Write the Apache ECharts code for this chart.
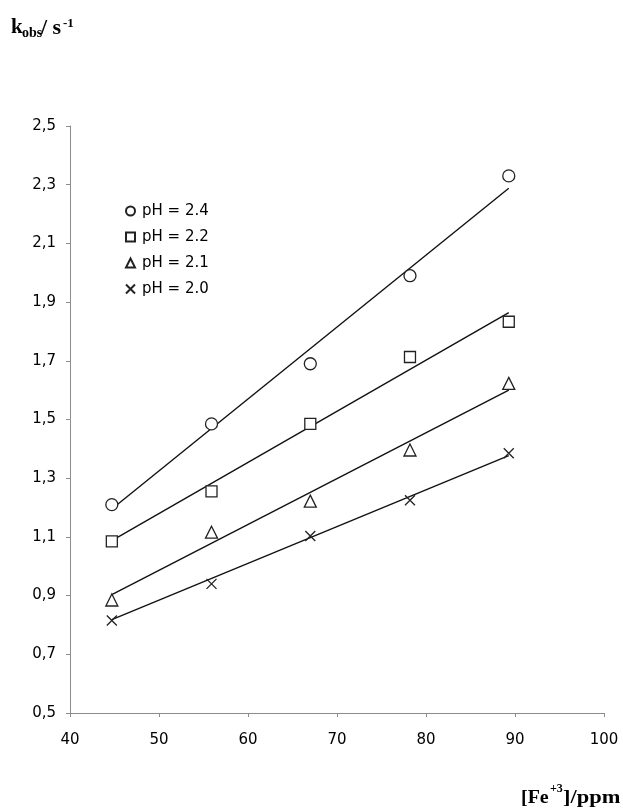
<!doctype html>
<html>
	<head>
		<meta charset="UTF-8">
		<title>kobs vs Fe+3</title>
		<script src="https://cdn.jsdelivr.net/npm/echarts@6/dist/echarts.min.js"></script>
		<style>
			html, body { margin: 0; padding: 0; background: #fff; }
			#main { width: 623px; height: 812px; }
		</style>
	</head>
	<body>
		<div id="main"></div>
		<script type="text/javascript">
			// concentrations of Fe+3 (ppm)
			var feConc = [44.7, 55.9, 67.0, 78.2, 89.3];
			// measured kobs for each pH
			var kPh24 = [1.21, 1.485, 1.69, 1.99, 2.33];
			var kPh22 = [1.085, 1.255, 1.485, 1.713, 1.833];
			var kPh21 = [0.885, 1.116, 1.222, 1.396, 1.623];
			var kPh20 = [0.815, 0.94, 1.103, 1.225, 1.385];
			// trend line endpoints, read at first and last concentration
			var lineX = [44.7, 89.3];
			var line24 = [1.195, 2.288];
			var line22 = [1.087, 1.864];
			var line21 = [0.903, 1.600];
			var line20 = [0.818, 1.377];
			var legendNames = ['pH = 2.4', 'pH = 2.2', 'pH = 2.1', 'pH = 2.0'];
			var xTicks = [40, 50, 60, 70, 80, 90, 100];
			var yTicks = [0.5, 0.7, 0.9, 1.1, 1.3, 1.5, 1.7, 1.9, 2.1, 2.3, 2.5];

			function pairs(xs, ys) {
				var out = [];
				for (var i = 0; i < xs.length; i++) {
					out.push([xs[i], ys[i]]);
				}
				return out;
			}

			var markerStyle = {
				color: '#ffffff',
				borderColor: '#222222',
				borderWidth: 1.3,
				opacity: 1
			};

			function scatter(name, values, symbol, size) {
				return {
					name: name,
					type: 'scatter',
					symbol: symbol,
					symbolSize: size,
					itemStyle: markerStyle,
					data: pairs(feConc, values),
					z: 3
				};
			}

			function trend(values) {
				return {
					type: 'line',
					symbol: 'none',
					silent: true,
					lineStyle: { color: '#111111', width: 1.4 },
					data: pairs(lineX, values),
					z: 2
				};
			}

			var crossPath = 'path://M0,0L10,10M10,0L0,10';
			var serif = 'Liberation Serif';

			function label(text, x, y, size, sx) {
				return {
					type: 'text',
					x: x,
					y: y,
					scaleX: sx || 1,
					style: {
						text: text,
						fontFamily: serif,
						fontWeight: 'bold',
						fontSize: size,
						fill: '#000000',
						verticalAlign: 'middle'
					}
				};
			}

			var option = {
				animation: false,
				backgroundColor: '#ffffff',
				grid: {
					left: 70,
					right: 19,
					top: 126,
					bottom: 99
				},
				legend: {
					orient: 'vertical',
					left: 120,
					top: 198,
					itemWidth: 9,
					itemHeight: 9,
					itemGap: 10,
					data: legendNames,
					textStyle: {
						fontFamily: 'DejaVu Sans',
						fontSize: 15,
						lineHeight: 16,
						color: '#000000',
						padding: [0, 0, 0, 2]
					}
				},
				xAxis: {
					type: 'value',
					min: xTicks[0],
					max: xTicks[xTicks.length - 1],
					interval: 10,
					splitLine: { show: false },
					axisLine: { lineStyle: { color: '#8c8c8c', width: 1 } },
					axisTick: { length: 4, lineStyle: { color: '#8c8c8c' } },
					axisLabel: {
						margin: 20,
						fontFamily: 'DejaVu Sans',
						fontSize: 15,
						color: '#000000'
					}
				},
				yAxis: {
					type: 'value',
					min: yTicks[0],
					max: yTicks[yTicks.length - 1],
					interval: 0.2,
					splitLine: { show: false },
					axisLine: { show: true, lineStyle: { color: '#8c8c8c', width: 1 } },
					axisTick: { show: true, length: 4, lineStyle: { color: '#8c8c8c' } },
					axisLabel: {
						margin: 14,
						fontFamily: 'DejaVu Sans',
						fontSize: 15,
						color: '#000000',
						formatter: function(v) {
							return v.toFixed(1).replace('.', ',');
						}
					}
				},
				graphic: [
					label('k', 11, 28, 21),
					label('obs', 22, 33, 14),
					label('/ s', 41, 28, 22),
					label('-1', 63, 24, 13),
					label('[Fe', 521, 798, 19, 1.05),
					label('+3', 550, 789, 12),
					label(']/ppm', 563, 798, 19, 1.18)
				],
				series: [
					scatter(legendNames[0], kPh24, 'circle', 12),
					scatter(legendNames[1], kPh22, 'rect', 11),
					scatter(legendNames[2], kPh21, 'triangle', 12),
					scatter(legendNames[3], kPh20, crossPath, 10),
					trend(line24),
					trend(line22),
					trend(line21),
					trend(line20)
				]
			};

			var chart = echarts.init(document.getElementById('main'));
			chart.setOption(option);
		</script>
	</body>
</html>
